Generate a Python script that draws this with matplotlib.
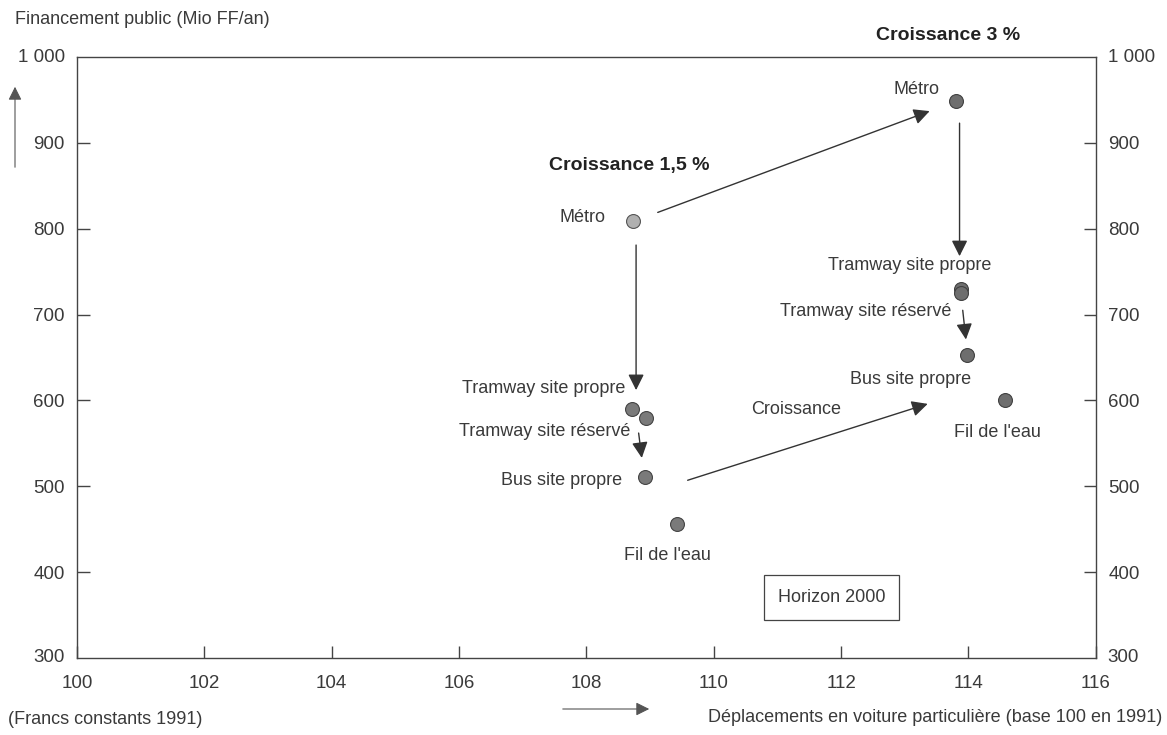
import matplotlib.pyplot as plt
from matplotlib.patches import FancyArrowPatch

# scenario points: croissance 1,5 % and croissance 3 %
labels = ["Métro", "Tramway site propre", "Tramway site réservé",
          "Bus site propre", "Fil de l'eau"]
x_15 = [108.73, 108.71, 108.93, 108.92, 109.43]
y_15 = [809, 590, 580, 511, 456]
x_30 = [113.80, 113.88, 113.88, 113.97, 114.58]
y_30 = [949, 730, 725, 653, 600]

# label offsets in pixels (dx, dy)
off_15 = [(-50, 4), (-88, 21), (-101, -14), (-83, -4), (-10, -31)]
off_30 = [(-39, 11), (-51, 23), (-95, -18), (-56, -25), (-8, -32)]

# arrows (x0, y0, x1, y1) in data units
arrows = [
    (109.12, 819, 113.39, 937),
    (108.78, 781, 108.78, 612),
    (108.82, 562, 108.87, 533),
    (109.59, 507, 113.36, 596),
    (113.86, 923, 113.86, 768),
    (113.91, 705, 113.96, 671),
]

xticks = list(range(100, 117, 2))
yticks = list(range(300, 1001, 100))
ytick_labels = ["300", "400", "500", "600", "700", "800", "900", "1 000"]

txt = "#3a3a3a"
fs = 13
tfs = 13.5
plt.rcParams["font.family"] = ["Liberation Sans", "DejaVu Sans"]

fig = plt.figure(figsize=(11.67, 7.35), dpi=100)
ax = fig.add_axes([0.066, 0.1048, 0.873, 0.8176])
ax.set_xlim(100, 116)
ax.set_ylim(300, 1000)

for sp in ax.spines.values():
    sp.set_color("#444444")
    sp.set_linewidth(1.0)

ax.set_xticks(xticks)
ax.set_xticklabels([str(t) for t in xticks])
ax.set_yticks(yticks[1:-1])
ax.set_yticklabels(ytick_labels[1:-1])
ax.tick_params(direction="in", length=9, width=1, color="#444444",
               labelsize=tfs, labelcolor=txt, pad=9)
ax.tick_params(axis="x", pad=12)
ax.tick_params(axis="y", right=True, labelright=True)

# end labels for y range (1 000 and 300) on both sides
for yv, lab in [(1000, "1 000"), (300, "300")]:
    ax.annotate(lab, (0, yv), xycoords=("axes fraction", "data"),
                xytext=(-12, 0), textcoords="offset pixels",
                ha="right", va="center", fontsize=tfs, color=txt)
    ax.annotate(lab, (1, yv), xycoords=("axes fraction", "data"),
                xytext=(12, 0), textcoords="offset pixels",
                ha="left", va="center", fontsize=tfs, color=txt)

# points
ax.scatter(x_15[:1], y_15[:1], s=100, color="#b0b0b0", edgecolor="#555555",
           linewidth=0.8, zorder=3)
ax.scatter(x_15[1:], y_15[1:], s=100, color="#7a7a7a", edgecolor="#444444",
           linewidth=0.8, zorder=3)
ax.scatter(x_30, y_30, s=100, color="#6e6e6e", edgecolor="#404040",
           linewidth=0.8, zorder=3)

for xs, ys, offs in [(x_15, y_15, off_15), (x_30, y_30, off_30)]:
    for lab, xv, yv, (dx, dy) in zip(labels, xs, ys, offs):
        ax.annotate(lab, (xv, yv), xytext=(dx, dy), textcoords="offset pixels",
                    ha="center", va="center", fontsize=fs, color=txt)

for x0, y0, x1, y1 in arrows:
    ax.add_patch(FancyArrowPatch((x0, y0), (x1, y1), arrowstyle="-|>",
                                 mutation_scale=24, color="#333333",
                                 linewidth=1.0, shrinkA=0, shrinkB=0))

ax.text(108.67, 874, "Croissance 1,5 %", ha="center", va="center",
        fontsize=14, fontweight="bold", color="#222222")
ax.text(113.68, 1025, "Croissance 3 %", ha="center", va="center",
        fontsize=14, fontweight="bold", color="#222222", clip_on=False)
ax.text(111.3, 590, "Croissance", ha="center", va="center",
        fontsize=fs, color=txt)
ax.text(111.85, 370, "Horizon 2000", ha="center", va="center",
        fontsize=fs, color=txt,
        bbox=dict(boxstyle="square,pad=0.78", facecolor="white",
                  edgecolor="#444444", linewidth=0.9))

# outer texts and axis arrows
fig.text(15 / 1167, 1 - 20 / 735, "Financement public (Mio FF/an)",
         ha="left", va="center", fontsize=fs, color=txt)
fig.text(8 / 1167, 1 - 720 / 735, "(Francs constants 1991)",
         ha="left", va="center", fontsize=fs, color=txt)
fig.text(1162 / 1167, 1 - 718 / 735,
         "Déplacements en voiture particulière (base 100 en 1991)",
         ha="right", va="center", fontsize=fs, color=txt)
fig.add_artist(FancyArrowPatch((15 / 1167, 1 - 170 / 735),
                               (15 / 1167, 1 - 84 / 735),
                               transform=fig.transFigure, arrowstyle="-|>",
                               mutation_scale=20, color="#555555",
                               linewidth=0.8))
fig.add_artist(FancyArrowPatch((560 / 1167, 1 - 709 / 735),
                               (652 / 1167, 1 - 709 / 735),
                               transform=fig.transFigure, arrowstyle="-|>",
                               mutation_scale=20, color="#555555",
                               linewidth=0.8))

fig.savefig("out.png", dpi=100)
